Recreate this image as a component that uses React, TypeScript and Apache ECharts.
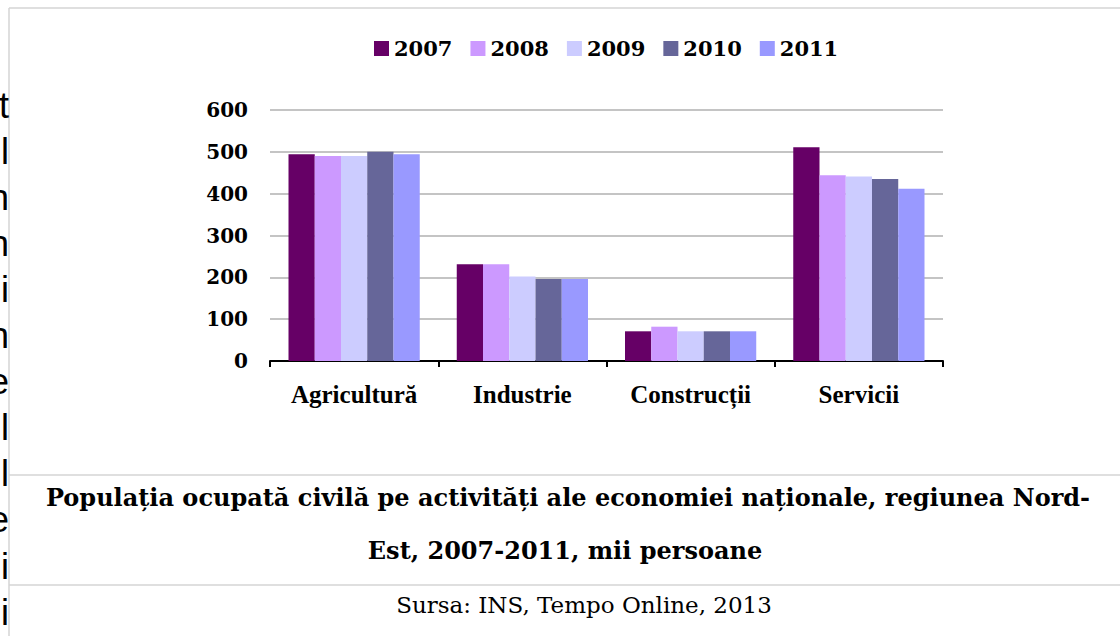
import React, { useEffect, useRef } from "react";
import * as echarts from "echarts";

const categories = ["Agricultură", "Industrie", "Construcții", "Servicii"];
const years = ["2007", "2008", "2009", "2010", "2011"];
const values2007 = [494, 231, 71, 511];
const values2008 = [490, 231, 82, 444];
const values2009 = [490, 202, 71, 441];
const values2010 = [500, 196, 71, 435];
const values2011 = [494, 196, 71, 412];
const colors = ["#660066", "#CC99FF", "#CCCCFF", "#666699", "#9999FF"];
const yTicks = { min: 0, max: 600, interval: 100 };

const captionLine1 = "Populația ocupată civilă pe activități ale economiei naționale, regiunea Nord-";
const captionLine2 = "Est, 2007-2011, mii persoane";
const sourceText = "Sursa: INS, Tempo Online, 2013";
const sideLetters = ["t", "l", "n", "n", "i", "n", "e", "l", "l", "e", "i", "i"];

export default function App() {
  const ref = useRef<HTMLDivElement>(null);
  useEffect(() => {
    if (!ref.current) return;
    const chart = echarts.init(ref.current, null, { renderer: "svg" });
    const seriesValues = [values2007, values2008, values2009, values2010, values2011];
    const gray = "#d4d4d4";
    const graphic: any[] = [
      { type: "line", shape: { x1: 9, y1: 8, x2: 1120, y2: 8 }, style: { stroke: gray, lineWidth: 1.5 } },
      { type: "line", shape: { x1: 9, y1: 8, x2: 9, y2: 636 }, style: { stroke: gray, lineWidth: 1.5 } },
      { type: "line", shape: { x1: 9, y1: 475, x2: 1120, y2: 475 }, style: { stroke: gray, lineWidth: 1.5 } },
      { type: "line", shape: { x1: 9, y1: 585, x2: 1120, y2: 585 }, style: { stroke: gray, lineWidth: 1.5 } },
      {
        type: "text", x: 568, y: 497,
        style: { text: captionLine1, font: "bold 24px 'DejaVu Serif'", fill: "#000", textAlign: "center", textVerticalAlign: "middle" },
      },
      {
        type: "text", x: 565, y: 550,
        style: { text: captionLine2, font: "bold 24px 'DejaVu Serif'", fill: "#000", textAlign: "center", textVerticalAlign: "middle" },
      },
      {
        type: "text", x: 584, y: 605,
        style: { text: sourceText, font: "23px 'DejaVu Serif'", fill: "#000", textAlign: "center", textVerticalAlign: "middle" },
      },
    ];
    sideLetters.forEach((ch, i) => {
      graphic.push({
        type: "text", x: 9, y: 123 + 46.1 * i,
        style: { text: ch, font: "36px 'Liberation Sans'", fill: "#000", textAlign: "right", textVerticalAlign: "bottom" },
      });
    });
    chart.setOption({
      animation: false,
      backgroundColor: "#fff",
      color: colors,
      legend: {
        data: years,
        left: 369,
        top: 33,
        icon: "rect",
        itemWidth: 15,
        itemHeight: 15,
        itemGap: 18,
        textStyle: { fontFamily: "DejaVu Serif", fontWeight: "bold", fontSize: 21, color: "#000" },
      },
      grid: { left: 270, right: 177, top: 110, bottom: 275, containLabel: false },
      xAxis: {
        type: "category",
        data: categories,
        axisLine: { lineStyle: { color: "#000", width: 2 } },
        axisTick: { show: true, length: 6, lineStyle: { color: "#000", width: 2 } },
        axisLabel: { interval: 0, hideOverlap: false, margin: 21, fontFamily: "Liberation Serif", fontWeight: "bold", fontSize: 25, color: "#000" },
      },
      yAxis: {
        type: "value",
        min: yTicks.min,
        max: yTicks.max,
        interval: yTicks.interval,
        axisLine: { show: false },
        axisTick: { show: false },
        splitLine: { lineStyle: { color: "#c4c4c4", width: 2 } },
        axisLabel: { margin: 22, fontFamily: "DejaVu Serif", fontWeight: "bold", fontSize: 20, color: "#000" },
      },
      series: years.map((y, i) => ({
        name: y,
        type: "bar",
        data: seriesValues[i],
        barGap: "0%",
        barCategoryGap: "22%",
        itemStyle: { color: colors[i] },
      })),
      graphic,
    });
    return () => chart.dispose();
  }, []);
  return (
    <div
      ref={ref}
      style={{ position: "fixed", left: 0, top: 0, width: 1120, height: 636, background: "#fff" }}
    />
  );
}
